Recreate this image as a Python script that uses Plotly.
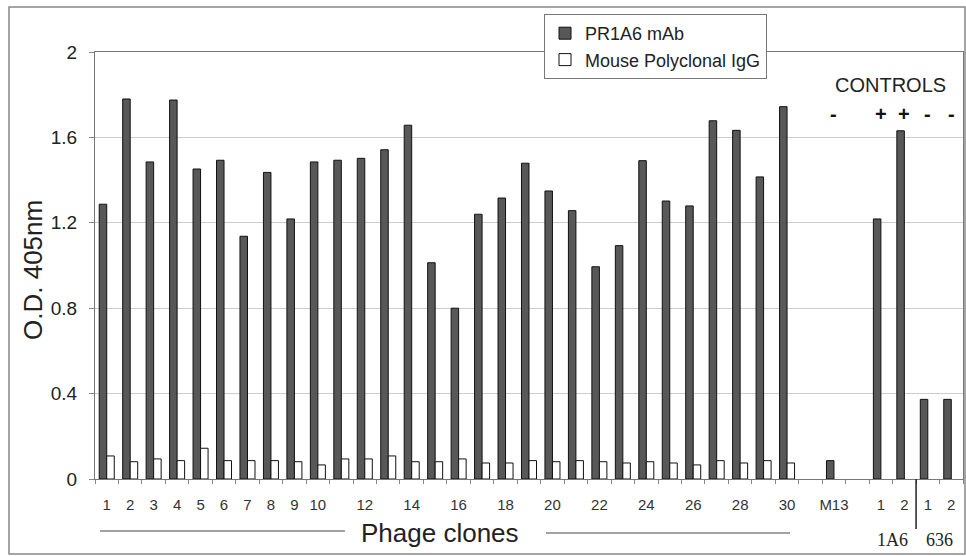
import plotly.graph_objects as go

# ---- data ----
categories = [str(i) for i in range(1, 31)] + ["gap1", "M13", "gap2", "1A6-1", "1A6-2", "636-1", "636-2"]
tick_labels = ["1", "2", "3", "4", "5", "6", "7", "8", "9", "10",
               "", "12", "", "14", "", "16", "", "18", "", "20",
               "", "22", "", "24", "", "26", "", "28", "", "30",
               "", "M13", "", "1", "2", "1", "2"]
pr1a6 = [1.287, 1.780, 1.485, 1.775, 1.452, 1.493, 1.137, 1.436, 1.218, 1.485,
         1.493, 1.502, 1.542, 1.657, 1.013, 0.800, 1.240, 1.316, 1.479, 1.349,
         1.257, 0.994, 1.093, 1.491, 1.302, 1.279, 1.678, 1.633, 1.415, 1.744,
         None, 0.086, None, 1.218, 1.631, 0.373, 0.373]
mouse_igg = [0.108, 0.081, 0.094, 0.086, 0.144, 0.086, 0.086, 0.086, 0.081, 0.066,
             0.094, 0.094, 0.108, 0.081, 0.081, 0.094, 0.075, 0.075, 0.086, 0.081,
             0.086, 0.081, 0.075, 0.081, 0.075, 0.066, 0.086, 0.075, 0.086, 0.075,
             None, None, None, None, None, None, None]
control_cats = ["M13", "1A6-1", "1A6-2", "636-1", "636-2"]
control_signs = ["-", "+", "+", "-", "-"]
group_labels = ["1A6", "636"]
group_centers = [33.5, 35.5]

FONT = "Liberation Sans, Arial, sans-serif"

fig = go.Figure()
fig.add_trace(go.Bar(x=categories, y=pr1a6, name="PR1A6 mAb",
                     marker=dict(color="#585858", line=dict(color="#111111", width=1))))
fig.add_trace(go.Bar(x=categories, y=mouse_igg, name="Mouse Polyclonal IgG",
                     marker=dict(color="#ffffff", line=dict(color="#111111", width=1))))

fig.update_layout(
    width=966, height=556,
    margin=dict(l=95, r=3, t=52, b=77),
    paper_bgcolor="white", plot_bgcolor="white",
    barmode="group", bargap=0.36, bargroupgap=0,
    font=dict(family=FONT, color="#222222"),
    legend=dict(x=(544 - 95) / 868, y=(479 - 14) / 427, xanchor="left", yanchor="top",
                bgcolor="white", bordercolor="#777777", borderwidth=1,
                font=dict(size=18, family=FONT, color="#222222"),
                tracegroupgap=0, itemwidth=30),
    showlegend=True,
)
fig.update_xaxes(
    type="category", categoryorder="array", categoryarray=categories,
    tickmode="array", tickvals=categories, ticktext=tick_labels,
    tickson="boundaries", ticks="outside", ticklen=4, tickcolor="#888888",
    tickangle=0,
    tickfont=dict(size=15, family=FONT, color="#333333"),
    ticklabelstandoff=12,
    showline=True, linecolor="#777777", linewidth=1, mirror=True,
    showgrid=False, zeroline=False,
)
fig.update_yaxes(
    range=[0, 2], dtick=0.4, tick0=0,
    ticks="outside", ticklen=5, tickcolor="#888888",
    tickfont=dict(size=19, family=FONT, color="#222222"),
    ticklabelstandoff=8,
    showline=True, linecolor="#777777", linewidth=1, mirror=True,
    showgrid=True, gridcolor="#cccccc", gridwidth=1, zeroline=False,
)

def px_x(p):
    return (p - 95) / 868

def px_y(p):
    return (479 - p) / 427

sep_index = 34.5  # boundary between the 1A6 and 636 control groups
shapes = [
    # outer frame
    dict(type="rect", xref="paper", yref="paper", x0=px_x(9), x1=px_x(965), y0=px_y(554), y1=px_y(7),
         line=dict(color="#888888", width=1.5), layer="below"),
    # lines around "Phage clones"
    dict(type="line", xref="paper", yref="paper", x0=px_x(100), x1=px_x(345), y0=px_y(531), y1=px_y(531),
         line=dict(color="#444444", width=1)),
    dict(type="line", xref="paper", yref="paper", x0=px_x(546), x1=px_x(790), y0=px_y(533), y1=px_y(533),
         line=dict(color="#444444", width=1)),
    # separator between 1A6 and 636
    dict(type="line", xref="paper", yref="paper",
         x0=(sep_index + 0.5) / len(categories), x1=(sep_index + 0.5) / len(categories),
         y0=0, y1=px_y(529), line=dict(color="#222222", width=1.5)),
]
fig.update_layout(shapes=shapes)

def ann(text, x, y, size, xref="paper", family=FONT, angle=0, color="#222222"):
    return dict(text=text, xref=xref, yref="paper", x=x, y=y, xanchor="center", yanchor="middle",
                textangle=angle, showarrow=False, font=dict(size=size, family=family, color=color))

annotations = [
    ann("O.D. 405nm", px_x(33), px_y(270), 26, angle=-90),
    ann("Phage clones", px_x(440), px_y(533), 26),
    ann("CONTROLS", px_x(890), px_y(85), 20),
]
for c, s in zip(control_cats, control_signs):
    annotations.append(ann("<b>%s</b>" % s, c, px_y(114), 20, xref="x", color="#111111"))
for lab, xc in zip(group_labels, group_centers):
    annotations.append(ann(lab, xc, px_y(540), 18, xref="x",
                           family="Liberation Serif, Times New Roman, serif"))
fig.update_layout(annotations=annotations)

fig.write_html("out.html")
